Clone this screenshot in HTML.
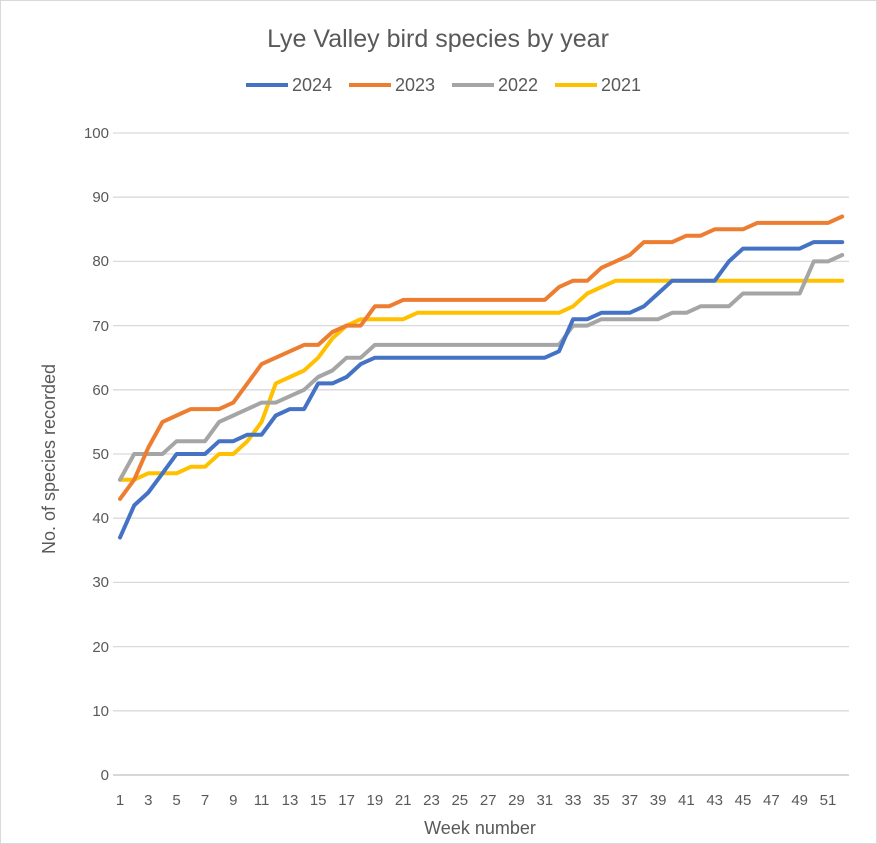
<!DOCTYPE html>
<html><head><meta charset="utf-8"><style>
body{margin:0;background:#fff}
svg{display:block;font-family:"Liberation Sans",sans-serif}
</style></head><body>
<svg id="s" width="877" height="844" xmlns="http://www.w3.org/2000/svg">
<rect x="0.5" y="0.5" width="876" height="843" fill="#fff" stroke="#d9d9d9"/>
<text x="438" y="47" font-size="25" fill="#595959" text-anchor="middle">Lye Valley bird species by year</text>
<g font-size="18" fill="#595959">
<line x1="246" y1="85" x2="288" y2="85" stroke="#4472c4" stroke-width="4"/><text x="292" y="91">2024</text>
<line x1="349" y1="85" x2="391" y2="85" stroke="#ed7d31" stroke-width="4"/><text x="395" y="91">2023</text>
<line x1="452" y1="85" x2="494" y2="85" stroke="#a5a5a5" stroke-width="4"/><text x="498" y="91">2022</text>
<line x1="555" y1="85" x2="597" y2="85" stroke="#ffc000" stroke-width="4"/><text x="601" y="91">2021</text>
</g>
<g stroke="#d9d9d9" stroke-width="1.3">
<line x1="113" x2="849" y1="133" y2="133"/><line x1="113" x2="849" y1="197.2" y2="197.2"/>
<line x1="113" x2="849" y1="261.4" y2="261.4"/><line x1="113" x2="849" y1="325.6" y2="325.6"/>
<line x1="113" x2="849" y1="389.8" y2="389.8"/><line x1="113" x2="849" y1="454" y2="454"/>
<line x1="113" x2="849" y1="518.2" y2="518.2"/><line x1="113" x2="849" y1="582.4" y2="582.4"/>
<line x1="113" x2="849" y1="646.6" y2="646.6"/><line x1="113" x2="849" y1="710.8" y2="710.8"/>
</g>
<line x1="113" x2="849" y1="775" y2="775" stroke="#bfbfbf" stroke-width="1.3"/>
<g font-size="15" fill="#595959" text-anchor="end">
<text x="109" y="138">100</text><text x="109" y="202">90</text><text x="109" y="266">80</text>
<text x="109" y="331">70</text><text x="109" y="395">60</text><text x="109" y="459">50</text>
<text x="109" y="523">40</text><text x="109" y="587">30</text><text x="109" y="652">20</text>
<text x="109" y="716">10</text><text x="109" y="780">0</text>
</g>
<g font-size="15" fill="#595959" text-anchor="middle">
<text x="120" y="805">1</text><text x="148.3" y="805">3</text><text x="176.6" y="805">5</text>
<text x="205" y="805">7</text><text x="233.3" y="805">9</text><text x="261.6" y="805">11</text>
<text x="290" y="805">13</text><text x="318.2" y="805">15</text><text x="346.6" y="805">17</text>
<text x="374.9" y="805">19</text><text x="403.2" y="805">21</text><text x="431.5" y="805">23</text>
<text x="459.8" y="805">25</text><text x="488.2" y="805">27</text><text x="516.5" y="805">29</text>
<text x="544.8" y="805">31</text><text x="573.1" y="805">33</text><text x="601.4" y="805">35</text>
<text x="629.8" y="805">37</text><text x="658.1" y="805">39</text><text x="686.4" y="805">41</text>
<text x="714.7" y="805">43</text><text x="743" y="805">45</text><text x="771.4" y="805">47</text>
<text x="799.7" y="805">49</text><text x="828" y="805">51</text>
</g>
<text x="480" y="834" font-size="18" fill="#595959" text-anchor="middle">Week number</text>
<text transform="translate(55,459) rotate(-90)" font-size="18" fill="#595959" text-anchor="middle">No. of species recorded</text>
<g id="lines" fill="none" stroke-width="4" stroke-linejoin="round" stroke-linecap="round"></g>
</svg>
<script>
var d={
"#ffc000":[46,46,47,47,47,48,48,50,50,52,55,61,62,63,65,68,70,71,71,71,71,72,72,72,72,72,72,72,72,72,72,72,73,75,76,77,77,77,77,77,77,77,77,77,77,77,77,77,77,77,77,77],
"#a5a5a5":[46,50,50,50,52,52,52,55,56,57,58,58,59,60,62,63,65,65,67,67,67,67,67,67,67,67,67,67,67,67,67,67,70,70,71,71,71,71,71,72,72,73,73,73,75,75,75,75,75,80,80,81],
"#ed7d31":[43,46,51,55,56,57,57,57,58,61,64,65,66,67,67,69,70,70,73,73,74,74,74,74,74,74,74,74,74,74,74,76,77,77,79,80,81,83,83,83,84,84,85,85,85,86,86,86,86,86,86,87],
"#4472c4":[37,42,44,47,50,50,50,52,52,53,53,56,57,57,61,61,62,64,65,65,65,65,65,65,65,65,65,65,65,65,65,66,71,71,72,72,72,73,75,77,77,77,77,80,82,82,82,82,82,83,83,83]};
var g=document.getElementById("lines");
for(var c in d){var p=d[c].map(function(v,i){return (120+i*14.16).toFixed(1)+","+(775-v*6.42).toFixed(1)}).join(" ");
var e=document.createElementNS("http://www.w3.org/2000/svg","polyline");e.setAttribute("points",p);e.setAttribute("stroke",c);g.appendChild(e);}
</script>
</body></html>
